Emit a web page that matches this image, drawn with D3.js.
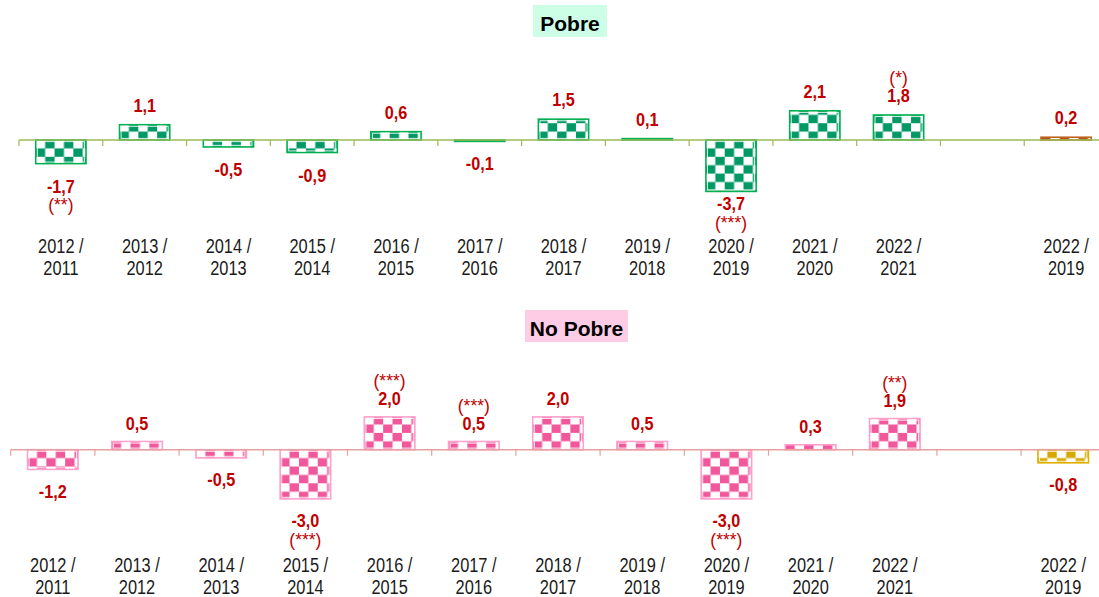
<!DOCTYPE html>
<html>
<head>
<meta charset="utf-8">
<script src="https://cdn.jsdelivr.net/npm/d3@7"></script>
<style>
  html, body { margin: 0; padding: 0; background: #ffffff; }
  svg { display: block; }
  .cat { font-family: "Liberation Sans", Arial, sans-serif; font-size: 19.5px; fill: #1a1a1a; }
  .val { font-family: "Liberation Sans", Arial, sans-serif; font-size: 18px; font-weight: bold; fill: #c00000; }
  .sig { font-family: "Liberation Sans", Arial, sans-serif; font-size: 17.5px; fill: #c00000; }
  .title { font-family: "Liberation Sans", Arial, sans-serif; font-size: 21px; font-weight: bold; fill: #000000; }
</style>
</head>
<body>
<svg id="chart" width="1099" height="597"></svg>
<script>
// Periods compared (one empty slot separates the yearly changes from 2022 / 2019)
const periods = ["2012 / 2011", "2013 / 2012", "2014 / 2013", "2015 / 2014", "2016 / 2015",
                 "2017 / 2016", "2018 / 2017", "2019 / 2018", "2020 / 2019", "2021 / 2020",
                 "2022 / 2021", "", "2022 / 2019"];

// Variation (percentage points)
const pobreValues   = [-1.7, 1.1, -0.5, -0.9, 0.6, -0.1, 1.5, 0.1, -3.7, 2.1, 1.8, null, 0.2];
const noPobreValues = [-1.2, 0.5, -0.5, -3.0, 2.0, 0.5, 2.0, 0.5, -3.0, 0.3, 1.9, null, -0.8];

// Statistical significance markers
const pobreSig   = ["(**)", "", "", "", "", "", "", "", "(***)", "", "(*)", "", ""];
const noPobreSig = ["", "", "", "(***)", "(***)", "(***)", "", "", "(***)", "", "(**)", "", ""];

const titles = ["Pobre", "No Pobre"];

const locale = d3.formatLocale({ decimal: ",", thousands: ".", grouping: [3], currency: ["", ""], minus: "-" });
const fmt = locale.format(".1f");

const svg = d3.select("#chart");
const defs = svg.append("defs");

// Condensed look: squeeze each text run horizontally
function condense(sel, ratio) {
  sel.each(function () {
    const len = this.getComputedTextLength();
    if (len > 0) {
      d3.select(this)
        .attr("textLength", (len * ratio).toFixed(2))
        .attr("lengthAdjust", "spacingAndGlyphs");
    }
  });
}

// Checkerboard fills
function checker(id, dark, cw, ch) {
  const p = defs.append("pattern")
    .attr("id", id)
    .attr("patternUnits", "userSpaceOnUse")
    .attr("x", 0).attr("y", 0)
    .attr("width", cw * 2).attr("height", ch * 2);
  p.append("rect").attr("width", cw * 2).attr("height", ch * 2).attr("fill", dark);
  p.append("rect").attr("x", 0).attr("y", 0).attr("width", cw).attr("height", ch).attr("fill", "#ffffff");
  p.append("rect").attr("x", cw).attr("y", ch).attr("width", cw).attr("height", ch).attr("fill", "#ffffff");
}
const CW = 9.4, CH = 8.4;
checker("chk-green", "#009966", CW, CH);
checker("chk-pink", "#f0589b", CW, CH);
checker("chk-brown", "#b4561c", CW, CH);
checker("chk-gold", "#d6a800", CW, CH);

const panels = [
  {
    title: titles[0], values: pobreValues, sig: pobreSig,
    x0: 19, x1: 1108, zero: 140, pxPerUnit: 13.9,
    titleCx: 570, titleY: 5, boxW: 74, boxBg: "#ccffe6",
    fill: "chk-green", stroke: "#00b050",
    lastFill: "chk-brown", lastStroke: "#c0631f",
    axis: "#9bbb59",
    posGap: 13, negGap: 29, negShift: { 8: -10 },
    catY: 253
  },
  {
    title: titles[1], values: noPobreValues, sig: noPobreSig,
    x0: 10.7, x1: 1105.3, zero: 449.7, pxPerUnit: 16.4,
    titleCx: 576.5, titleY: 310, boxW: 103, boxBg: "#ffcce6",
    fill: "chk-pink", stroke: "#ff9fcc",
    lastFill: "chk-gold", lastStroke: "#e0b000",
    axis: "#e6a0a0",
    posGap: 12, negGap: 28.5, negShift: {},
    catY: 572
  }
];

panels.forEach(cfg => {
  const g = svg.append("g");

  const x = d3.scaleBand()
    .domain(d3.range(periods.length))
    .range([cfg.x0, cfg.x1])
    .paddingInner(0.4)
    .paddingOuter(0.2);

  const y = d3.scaleLinear()
    .domain([-5, 5])
    .range([cfg.zero + 5 * cfg.pxPerUnit, cfg.zero - 5 * cfg.pxPerUnit]);

  const step = x.step();
  const edge = i => x(i) - step * x.paddingOuter();
  const mid = i => x(i) + x.bandwidth() / 2;

  // Title box
  const tg = g.append("g");
  tg.append("rect")
    .attr("x", cfg.titleCx - cfg.boxW / 2).attr("y", cfg.titleY)
    .attr("width", cfg.boxW).attr("height", 32)
    .attr("fill", cfg.boxBg);
  tg.append("text").attr("class", "title")
    .attr("x", cfg.titleCx).attr("y", cfg.titleY + 26)
    .attr("text-anchor", "middle")
    .text(cfg.title);

  // Bars
  const rows = periods.map((p, i) => ({ i, p, v: cfg.values[i], s: cfg.sig[i] }))
    .filter(d => d.v !== null);
  const last = periods.length - 1;

  const bars = g.selectAll("g.bar").data(rows).join("g")
    .attr("class", "bar")
    .attr("transform", d => `translate(${x(d.i)},${y(0)})`);

  bars.append("rect")
    .attr("x", 0)
    .attr("y", d => Math.min(y(d.v), y(0)) - y(0))
    .attr("width", x.bandwidth())
    .attr("height", d => Math.abs(y(d.v) - y(0)))
    .attr("fill", d => `url(#${d.i === last ? cfg.lastFill : cfg.fill})`)
    .attr("stroke", d => d.i === last ? cfg.lastStroke : cfg.stroke)
    .attr("stroke-width", 1.6);

  bars.filter(d => Math.abs(y(d.v) - y(0)) > 5).append("rect")
    .attr("x", 1.6)
    .attr("y", d => Math.min(y(d.v), y(0)) - y(0) + 1.6)
    .attr("width", x.bandwidth() - 3.2)
    .attr("height", d => Math.abs(y(d.v) - y(0)) - 3.2)
    .attr("fill", "none")
    .attr("stroke", "#ffffff")
    .attr("stroke-opacity", 0.85)
    .attr("stroke-width", 1);

  // Zero axis with tick marks on the category boundaries
  g.append("line")
    .attr("x1", cfg.x0).attr("x2", 1099)
    .attr("y1", y(0)).attr("y2", y(0))
    .attr("stroke", cfg.axis).attr("stroke-width", 1.5);
  g.selectAll("line.tick").data(d3.range(periods.length)).join("line")
    .attr("class", "tick")
    .attr("x1", i => edge(i)).attr("x2", i => edge(i))
    .attr("y1", y(0)).attr("y2", y(0) + 6)
    .attr("stroke", cfg.axis).attr("stroke-width", 1.2);

  // Value labels and significance markers
  const labelY = d => d.v >= 0
    ? y(d.v) - cfg.posGap
    : y(d.v) + cfg.negGap + (cfg.negShift[d.i] || 0);

  const vals = g.selectAll("text.val").data(rows).join("text")
    .attr("class", "val")
    .attr("x", d => mid(d.i))
    .attr("y", labelY)
    .attr("text-anchor", "middle")
    .text(d => fmt(d.v));
  condense(vals, 0.9);

  g.selectAll("text.sig").data(rows.filter(d => d.s)).join("text")
    .attr("class", "sig")
    .attr("x", d => mid(d.i))
    .attr("y", d => d.v >= 0 ? labelY(d) - 18 : labelY(d) + 18.5)
    .attr("text-anchor", "middle")
    .text(d => d.s);

  // Category labels on two lines
  const cats = g.selectAll("text.cat").data(periods.map((p, i) => ({ p, i })).filter(d => d.p)).join("text")
    .attr("class", "cat")
    .attr("text-anchor", "middle")
    .attr("x", d => mid(d.i))
    .attr("y", cfg.catY);
  cats.append("tspan")
    .attr("x", d => mid(d.i))
    .text(d => d.p.split(" / ")[0] + " /");
  cats.append("tspan")
    .attr("x", d => mid(d.i))
    .attr("dy", 21.5)
    .text(d => d.p.split(" / ")[1]);
  condense(cats.selectAll("tspan"), 0.84);
});
</script>
</body>
</html>
